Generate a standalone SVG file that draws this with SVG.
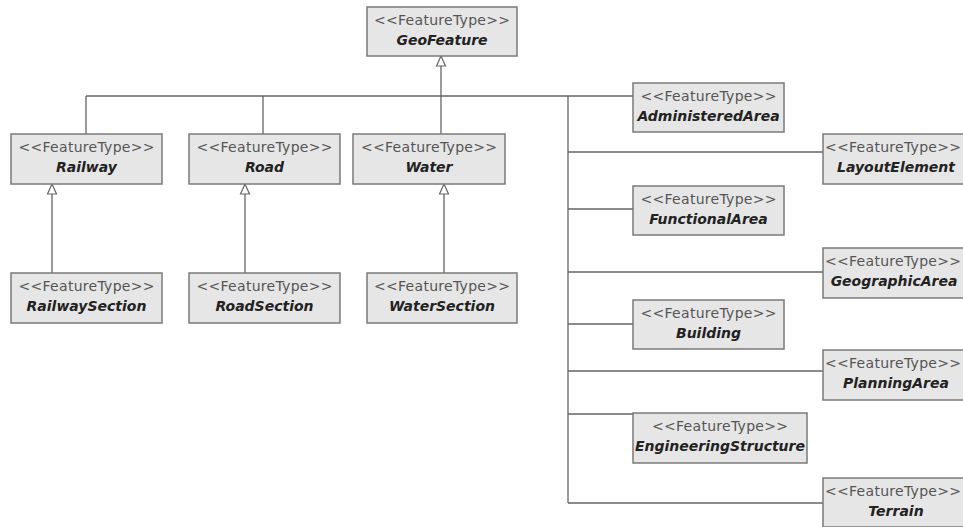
<svg xmlns="http://www.w3.org/2000/svg" width="963" height="527" viewBox="0 0 963 527">
<style>
.box{fill:#e6e6e6;stroke:#7a7a7a;stroke-width:1.5}
.st{font-family:"DejaVu Sans",sans-serif;font-size:14px;fill:#555;text-anchor:middle}
.nm{font-family:"DejaVu Sans",sans-serif;font-size:14px;font-weight:bold;font-style:italic;fill:#222;text-anchor:middle}
.ln{stroke:#666;stroke-width:1.3;fill:none}
.ah{fill:#fff;stroke:#666;stroke-width:1.2}
</style>
<rect width="963" height="527" fill="#fff"/>
<g id="connectors">
<path class="ln" d="M86 96H633M86 96V134M263 96V134M441 66V134M568 96V503"/>
<path class="ln" d="M568 152H823M568 209H633M568 272H823M568 324H633M568 371H823M568 414H633M568 503H823"/>
<path class="ln" d="M52 194V273M245 194V273M444 194V273"/>
<path class="ah" d="M441 56L445.5 66H436.5Z"/>
<path class="ah" d="M52 184L56.5 194H47.5Z"/>
<path class="ah" d="M245 184L249.5 194H240.5Z"/>
<path class="ah" d="M444 184L448.5 194H439.5Z"/>
</g>
<g id="GeoFeature"><rect class="box" x="367" y="7" width="150" height="49"/><text class="st" x="442" y="25" textLength="136" lengthAdjust="spacing">&lt;&lt;FeatureType&gt;&gt;</text><text class="nm" x="442" y="45">GeoFeature</text></g>
<g id="Railway"><rect class="box" x="11" y="134" width="151" height="50"/><text class="st" x="86.5" y="152" textLength="136" lengthAdjust="spacing">&lt;&lt;FeatureType&gt;&gt;</text><text class="nm" x="86.5" y="172">Railway</text></g>
<g id="Road"><rect class="box" x="189" y="134" width="151" height="50"/><text class="st" x="264.5" y="152" textLength="136" lengthAdjust="spacing">&lt;&lt;FeatureType&gt;&gt;</text><text class="nm" x="264.5" y="172">Road</text></g>
<g id="Water"><rect class="box" x="353" y="134" width="152" height="50"/><text class="st" x="429" y="152" textLength="136" lengthAdjust="spacing">&lt;&lt;FeatureType&gt;&gt;</text><text class="nm" x="429" y="172">Water</text></g>
<g id="RailwaySection"><rect class="box" x="11" y="273" width="151" height="50"/><text class="st" x="86.5" y="291" textLength="136" lengthAdjust="spacing">&lt;&lt;FeatureType&gt;&gt;</text><text class="nm" x="86.5" y="311">RailwaySection</text></g>
<g id="RoadSection"><rect class="box" x="189" y="273" width="151" height="50"/><text class="st" x="264.5" y="291" textLength="136" lengthAdjust="spacing">&lt;&lt;FeatureType&gt;&gt;</text><text class="nm" x="264.5" y="311">RoadSection</text></g>
<g id="WaterSection"><rect class="box" x="367" y="273" width="150" height="50"/><text class="st" x="442" y="291" textLength="136" lengthAdjust="spacing">&lt;&lt;FeatureType&gt;&gt;</text><text class="nm" x="442" y="311">WaterSection</text></g>
<g id="AdministeredArea"><rect class="box" x="633" y="83" width="151" height="49"/><text class="st" x="708.5" y="101" textLength="136" lengthAdjust="spacing">&lt;&lt;FeatureType&gt;&gt;</text><text class="nm" x="708.5" y="121">AdministeredArea</text></g>
<g id="LayoutElement"><rect class="box" x="823" y="134" width="151" height="50"/><text class="st" x="893" y="152" textLength="136" lengthAdjust="spacing">&lt;&lt;FeatureType&gt;&gt;</text><text class="nm" x="896" y="172">LayoutElement</text></g>
<g id="FunctionalArea"><rect class="box" x="633" y="186" width="151" height="49"/><text class="st" x="708.5" y="204" textLength="136" lengthAdjust="spacing">&lt;&lt;FeatureType&gt;&gt;</text><text class="nm" x="708.5" y="224">FunctionalArea</text></g>
<g id="GeographicArea"><rect class="box" x="823" y="248" width="151" height="50"/><text class="st" x="893" y="266" textLength="136" lengthAdjust="spacing">&lt;&lt;FeatureType&gt;&gt;</text><text class="nm" x="894" y="286">GeographicArea</text></g>
<g id="Building"><rect class="box" x="633" y="300" width="151" height="49"/><text class="st" x="708.5" y="318" textLength="136" lengthAdjust="spacing">&lt;&lt;FeatureType&gt;&gt;</text><text class="nm" x="708.5" y="338">Building</text></g>
<g id="PlanningArea"><rect class="box" x="823" y="350" width="151" height="50"/><text class="st" x="893" y="368" textLength="136" lengthAdjust="spacing">&lt;&lt;FeatureType&gt;&gt;</text><text class="nm" x="896" y="388">PlanningArea</text></g>
<g id="EngineeringStructure"><rect class="box" x="633" y="413" width="174" height="50"/><text class="st" x="720" y="431" textLength="136" lengthAdjust="spacing">&lt;&lt;FeatureType&gt;&gt;</text><text class="nm" x="720" y="451">EngineeringStructure</text></g>
<g id="Terrain"><rect class="box" x="823" y="478" width="151" height="49"/><text class="st" x="893" y="496" textLength="136" lengthAdjust="spacing">&lt;&lt;FeatureType&gt;&gt;</text><text class="nm" x="896" y="516">Terrain</text></g>
</svg>
